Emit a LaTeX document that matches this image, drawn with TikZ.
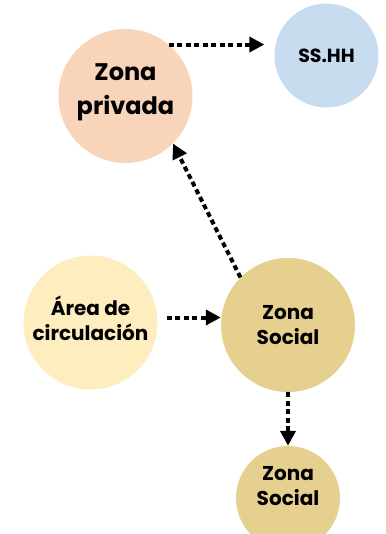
\documentclass[tikz,border=0pt]{standalone}
\usepackage{fontspec}
\setmainfont{Poppins}[BoldFont={* Bold}]
\usetikzlibrary{arrows.meta}
\definecolor{cpriv}{HTML}{F8D4BA}
\definecolor{css}{HTML}{C8DCF0}
\definecolor{carea}{HTML}{FEEEBF}
\definecolor{csoc}{HTML}{E6D08F}
\tikzset{
  zone/.style={circle, inner sep=0pt, align=center, font=\bfseries},
  lbl/.style={inner sep=0pt, align=center},
  arr/.style={line width=4pt, dash pattern=on 5pt off 3.5pt, -{Triangle[length=15pt,width=15pt]}},
}
\begin{document}
\begin{tikzpicture}[x=1pt,y=-1pt]
\useasboundingbox (0,0) rectangle (385,534);
\node[zone, fill=cpriv, minimum size=134pt] (priv) at (125.5,96) {};
\node[lbl, font=\bfseries\fontsize{24}{34}\selectfont] (privt) at (125.5,92) {Zona\\privada};
\node[zone, fill=css, minimum size=104pt, font=\bfseries\fontsize{19}{22}\selectfont] (ss) at (326.5,55.5) {SS.HH};
\node[zone, fill=carea, minimum size=134pt] (area) at (90.5,322.5) {};
\node[lbl, font=\bfseries\fontsize{20}{25}\selectfont] (areat) at (90.5,318) {Área de\\circulación};
\node[zone, fill=csoc, minimum size=134pt, font=\bfseries\fontsize{20}{25}\selectfont] (soc) at (288,325) {Zona\\Social};
\node[zone, fill=csoc, minimum size=104pt] (soc2) at (288,498) {};
\node[lbl, font=\bfseries\fontsize{20}{25}\selectfont] (soc2t) at (288,486) {Zona\\Social};
\draw[arr] (priv.50) -- ([xshift=-10pt]priv.50 -| ss.west);
\draw[arr] (soc.135) -- (priv.-45);
\draw[arr] ([shift={(9pt,5pt)}]area.east) -- ([yshift=5pt]area.east -| soc.west);
\draw[arr] (soc.south) -- (soc2.north);
\end{tikzpicture}
\end{document}
